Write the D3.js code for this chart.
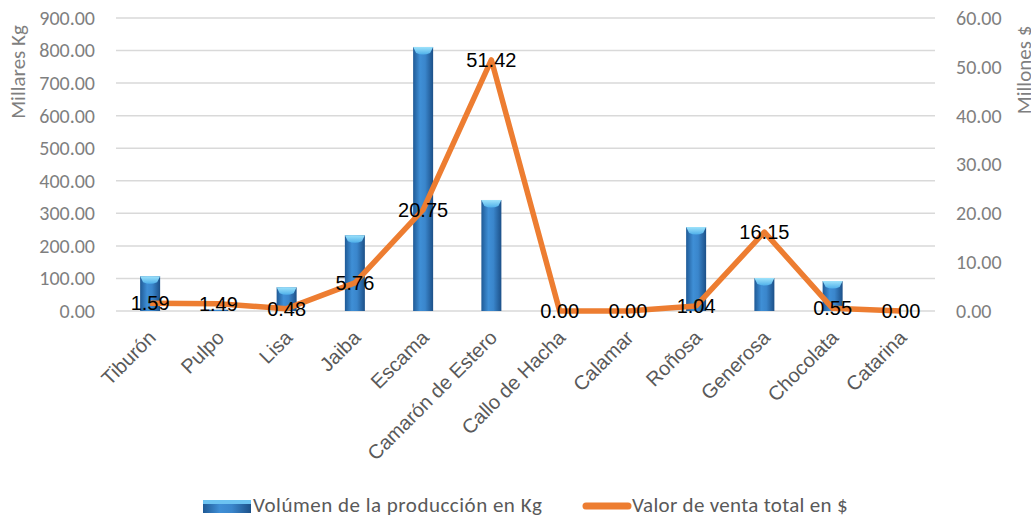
<!DOCTYPE html>
<html>
<head>
<meta charset="utf-8">
<script src="https://cdn.jsdelivr.net/npm/d3@7"></script>
<style>
body{margin:0;background:#fff;}
</style>
</head>
<body>
<div id="chart"></div>
<script>
var categories = ["Tiburón","Pulpo","Lisa","Jaiba","Escama","Camarón de Estero","Callo de Hacha","Calamar","Roñosa","Generosa","Chocolata","Catarina"];
var volumen = [107, 4, 73, 233, 811, 341, 0, 0, 258, 101, 92, 0];
var valor = [1.59, 1.49, 0.48, 5.76, 20.75, 51.42, 0.00, 0.00, 1.04, 16.15, 0.55, 0.00];
var leftTicks = [0,100,200,300,400,500,600,700,800,900];
var rightTicks = [0,10,20,30,40,50,60];

var w = 1031, h = 517;
var mLeft = 116, mRight = 935, mTop = 18, mBottom = 311;

var svg = d3.select("#chart").append("svg")
	.attr("width", w)
	.attr("height", h);

var defs = svg.append("defs");
var grad = defs.append("linearGradient").attr("id","barGrad")
	.attr("x1","0").attr("x2","1").attr("y1","0").attr("y2","0");
grad.append("stop").attr("offset","0%").attr("stop-color","#1f5a96");
grad.append("stop").attr("offset","35%").attr("stop-color","#3f8fd6");
grad.append("stop").attr("offset","60%").attr("stop-color","#3a86cc");
grad.append("stop").attr("offset","100%").attr("stop-color","#1c5088");
var capGrad = defs.append("linearGradient").attr("id","capGrad")
	.attr("x1","0").attr("x2","0").attr("y1","0").attr("y2","1");
capGrad.append("stop").attr("offset","0%").attr("stop-color","#9ee3fb");
capGrad.append("stop").attr("offset","100%").attr("stop-color","#4fb0ea");

var x = d3.scaleBand().domain(categories).range([mLeft, mRight]);
var y = d3.scaleLinear().domain([0, 900]).range([mBottom, mTop]);
var y2 = d3.scaleLinear().domain([0, 60]).range([mBottom, mTop]);

// gridlines
svg.append("g").selectAll("line")
	.data(leftTicks)
	.enter().append("line")
	.attr("x1", mLeft).attr("x2", mRight)
	.attr("y1", function(d){ return y(d); })
	.attr("y2", function(d){ return y(d); })
	.attr("stroke", "#d9d9d9")
	.attr("stroke-width", 1.5);

// left axis
var axL = svg.append("g")
	.attr("transform", "translate(" + (mLeft - 18) + ",0)")
	.call(d3.axisLeft(y).tickValues(leftTicks).tickSize(0).tickFormat(d3.format(".2f")));
axL.select(".domain").remove();
axL.selectAll("text").attr("font-family","Carlito, Lato, sans-serif").attr("font-size",20).attr("fill","#7f7f7f");

// right axis
var axR = svg.append("g")
	.attr("transform", "translate(" + (mRight + 18) + ",0)")
	.call(d3.axisRight(y2).tickValues(rightTicks).tickSize(0).tickFormat(d3.format(".2f")));
axR.select(".domain").remove();
axR.selectAll("text").attr("font-family","Carlito, Lato, sans-serif").attr("font-size",20).attr("fill","#7f7f7f");

// axis titles
svg.append("text")
	.attr("transform","translate(25,72) rotate(-90)")
	.attr("text-anchor","middle")
	.attr("font-family","Carlito, Lato, sans-serif")
	.attr("font-size",21)
	.attr("fill","#7f7f7f")
	.text("Millares Kg");
svg.append("text")
	.attr("transform","translate(1031,70) rotate(-90)")
	.attr("text-anchor","middle")
	.attr("font-family","Carlito, Lato, sans-serif")
	.attr("font-size",21)
	.attr("fill","#7f7f7f")
	.text("Millones $");

// bars
var bw = 20;
var bars = svg.append("g").selectAll(".bar")
	.data(volumen)
	.enter().append("g");
bars.append("rect")
	.attr("x", function(d,i){ return x(categories[i]) + x.bandwidth()/2 - bw/2; })
	.attr("y", function(d){ return y(d); })
	.attr("width", bw)
	.attr("height", function(d){ return mBottom - y(d); })
	.attr("fill", "url(#barGrad)");
bars.append("path")
	.attr("d", function(d,i){
		if (d < 20) return "";
		var cx = x(categories[i]) + x.bandwidth()/2;
		var yy = y(d);
		return "M" + (cx-bw/2) + "," + yy + "L" + (cx+bw/2) + "," + yy + "L" + (cx+bw/2-3) + "," + (yy+6) + "Q" + cx + "," + (yy+9) + " " + (cx-bw/2+3) + "," + (yy+6) + "Z";
	})
	.attr("fill", "url(#capGrad)");

// line
var line = d3.line()
	.x(function(d,i){ return x(categories[i]) + x.bandwidth()/2; })
	.y(function(d){ return y2(d); });
svg.append("path")
	.datum(valor)
	.attr("d", line)
	.attr("fill","none")
	.attr("stroke","#ed7d31")
	.attr("stroke-width",5.5)
	.attr("stroke-linejoin","round");

// value labels
svg.append("g").selectAll("text")
	.data(valor)
	.enter().append("text")
	.attr("x", function(d,i){ return x(categories[i]) + x.bandwidth()/2; })
	.attr("y", function(d){ return y2(d); })
	.attr("dy", ".35em")
	.attr("text-anchor","middle")
	.attr("font-family","Liberation Sans, Arial, sans-serif")
	.attr("font-size",20)
	.attr("fill","#000")
	.text(d3.format(".2f"));

// category labels
svg.append("g").selectAll("text")
	.data(categories)
	.enter().append("text")
	.attr("transform", function(d){ return "translate(" + (x(d) + x.bandwidth()/2 + 2) + "," + (mBottom + 23) + ") rotate(-45)"; })
	.attr("text-anchor","end")
	.attr("dy", ".35em")
	.attr("font-family","Liberation Sans, Arial, sans-serif")
	.attr("font-size",20)
	.attr("fill","#595959")
	.text(String);

// legend
var lg = svg.append("g");
lg.append("rect").attr("x",203).attr("y",500).attr("width",48).attr("height",13).attr("fill","url(#barGrad)");
lg.append("rect").attr("x",203).attr("y",500).attr("width",48).attr("height",4).attr("fill","#6cc3f2");
lg.append("text").attr("x",253).attr("y",512)
	.attr("font-family","Carlito, Lato, sans-serif").attr("font-size",21).attr("letter-spacing",0.5).attr("fill","#595959")
	.text("Volúmen de la producción en Kg");
lg.append("line").attr("x1",586).attr("x2",628).attr("y1",506).attr("y2",506)
	.attr("stroke","#ed7d31").attr("stroke-width",7).attr("stroke-linecap","round");
lg.append("text").attr("x",632).attr("y",512)
	.attr("font-family","Carlito, Lato, sans-serif").attr("font-size",21).attr("letter-spacing",0.3).attr("fill","#595959")
	.text("Valor de venta total en $");
</script>
</body>
</html>
